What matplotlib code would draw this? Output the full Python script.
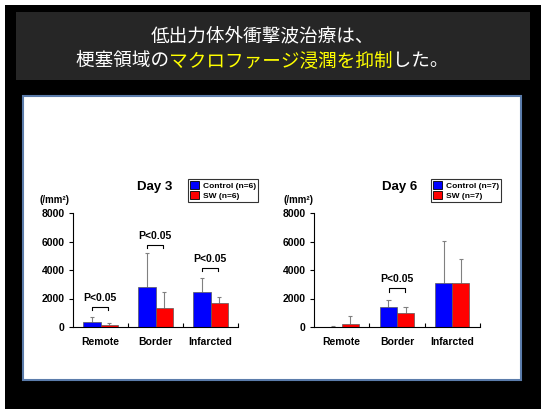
import matplotlib
matplotlib.use("Agg")
import matplotlib.pyplot as plt
from matplotlib.patches import Rectangle, Patch
import numpy as np

# ---- data -------------------------------------------------------------
categories = ["Remote", "Border", "Infarcted"]

day3_control = [370, 2790, 2430]
day3_control_sd = [320, 2425, 1030]
day3_sw = [140, 1310, 1660]
day3_sw_sd = [120, 1120, 420]

day6_control = [20, 1430, 3060]
day6_control_sd = [20, 490, 3000]
day6_sw = [190, 980, 3060]
day6_sw_sd = [580, 450, 1690]

y_ticks = [0, 2000, 4000, 6000, 8000]

# significance brackets: (category index, bracket height, label)
day3_sig = [(0, 1400, "P<0.05"), (1, 5750, "P<0.05"), (2, 4160, "P<0.05")]
day6_sig = [(1, 2715, "P<0.05")]

title_line1 = "低出力体外衝撃波治療は、"
title_line2 = [("梗塞領域の", "white"), ("マクロファージ浸潤を抑制", "#ffff00"), ("した。", "white")]

# ---- figure -------------------------------------------------------------
W, H = 541, 409
DPI = 100
fig = plt.figure(figsize=(W / DPI, H / DPI), dpi=DPI)
fig.patch.set_facecolor("white")


def fx(x):
    return x / W


def fy(y):
    return 1 - y / H


def rect_px(x0, y0, x1, y1, **kw):
    fig.add_artist(Rectangle((fx(x0), fy(y1)), fx(x1) - fx(x0), fy(y0) - fy(y1),
                             transform=fig.transFigure, **kw))


# slide background, title box and white panel
rect_px(5, 5, W + 2, H + 2, facecolor="black", edgecolor="none", zorder=0)
rect_px(16, 12, 530, 80, facecolor="#262626", edgecolor="none", zorder=1)
rect_px(23, 96, 521, 380, facecolor="white", edgecolor="#5b7cab", linewidth=1.5, zorder=1)

cjk = ["Noto Sans CJK JP", "DejaVu Sans"]
title_size = 13.4
fig.text(fx(262), fy(36), title_line1, color="white", fontsize=title_size,
         family=cjk, ha="center", va="center", zorder=5)

# second title line: each colour layer keeps the full-width layout of the
# whole line, with ideographic spaces standing in for the other colour
SP = "\u3000"
n_chars = sum(len(s) for s, _ in title_line2)
line_left = 262 - n_chars * title_size * DPI / 72 / 2
for k, (_, color) in enumerate(title_line2):
    layer = "".join(s if i == k else SP * len(s) for i, (s, _) in enumerate(title_line2))
    fig.text(fx(line_left), fy(61), layer, color=color, fontsize=title_size,
             family=cjk, ha="left", va="center", zorder=5)

font = "Liberation Sans"
plt.rcParams["font.family"] = [font, "DejaVu Sans"]
plt.rcParams["font.weight"] = "bold"

BW = 0.31
blue = "#0000ff"
red = "#ff0000"
err_color = "#808080"


def panel(x0, x1, ctrl, ctrl_sd, sw, sw_sd, sig, day, n, title_x, legend_x, unit_x):
    ax = fig.add_axes([fx(x0), fy(327), fx(x1) - fx(x0), fy(213) - fy(327)])
    ax.set_zorder(3)
    ax.patch.set_alpha(0)
    pos = np.arange(len(categories))
    ax.bar(pos - BW / 2, ctrl, BW, color=blue, edgecolor="#5a5a5a", linewidth=0.5, zorder=2)
    ax.bar(pos + BW / 2, sw, BW, color=red, edgecolor="#5a5a5a", linewidth=0.5, zorder=2)
    cap = 0.04
    for xs, m, sd in ((pos - BW / 2, ctrl, ctrl_sd), (pos + BW / 2, sw, sw_sd)):
        m = np.asarray(m)
        top = m + np.asarray(sd)
        ax.vlines(xs, m, top, color=err_color, linewidth=0.8, zorder=1)
        ax.hlines(top, xs - cap, xs + cap, color=err_color, linewidth=0.8, zorder=1)
    for i, yb, label in sig:
        xa, xb = i - 0.15, i + 0.14
        hook = 230
        ax.plot([xa, xa, xb, xb], [yb - hook, yb, yb, yb - hook], color="black",
                linewidth=0.8, clip_on=False)
        ax.text((xa + xb) / 2, yb + 280, label, ha="center", va="bottom",
                fontsize=7.5, fontweight="bold")
    ax.set_xlim(-0.5, 2.5)
    ax.set_ylim(0, 8000)
    ax.set_yticks(y_ticks)
    ax.set_yticklabels([str(v) for v in y_ticks], fontsize=7.5, fontweight="bold")
    ax.set_xticks(pos)
    ax.set_xticklabels(categories, fontsize=7.5, fontweight="bold")
    ax.set_xticks([0.5, 1.5, 2.5], minor=True)
    ax.tick_params(axis="x", which="major", length=0, pad=7)
    ax.tick_params(axis="x", which="minor", direction="in", length=3, width=0.8)
    ax.tick_params(axis="y", direction="out", length=3, width=0.8, pad=3)
    for sp in ("top", "right"):
        ax.spines[sp].set_visible(False)
    for sp in ("left", "bottom"):
        ax.spines[sp].set_linewidth(0.8)
        ax.spines[sp].set_color("black")

    fig.text(fx(title_x), fy(187), day, ha="center", va="center",
             fontsize=9.5, fontweight="bold")
    fig.text(fx(unit_x), fy(200), "(/mm²)", ha="left", va="center",
             fontsize=7, fontweight="bold")
    handles = [Patch(facecolor=blue, edgecolor="black", linewidth=0.6),
               Patch(facecolor=red, edgecolor="black", linewidth=0.6)]
    leg = fig.legend(handles, [f"Control (n={n})", f"SW (n={n})"],
                     loc="upper left", bbox_to_anchor=(fx(legend_x), fy(179)),
                     prop={"family": font, "weight": "bold", "size": 6},
                     frameon=True, fancybox=False, edgecolor="black",
                     handlelength=1.1, handleheight=1.1, handletextpad=0.4,
                     borderpad=0.25, labelspacing=0.1, borderaxespad=0)
    leg.get_frame().set_linewidth(0.8)
    leg.set_zorder(6)
    return ax


panel(73, 238, day3_control, day3_control_sd, day3_sw, day3_sw_sd, day3_sig,
      "Day 3", 6, 155, 188, 40)
panel(314, 480, day6_control, day6_control_sd, day6_sw, day6_sw_sd, day6_sig,
      "Day 6", 7, 400, 431, 283)

fig.savefig("out.png", dpi=DPI, facecolor=fig.get_facecolor())
